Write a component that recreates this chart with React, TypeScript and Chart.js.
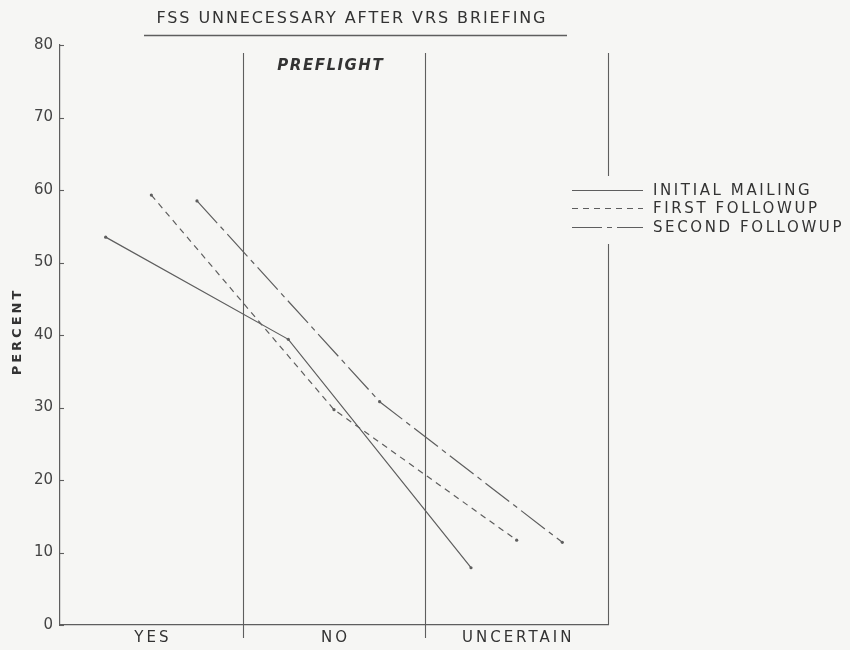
import { useEffect, useRef } from 'react';
import Chart from 'chart.js/auto';

const categories = ['YES', 'NO', 'UNCERTAIN'];
const seriesNames = ['INITIAL MAILING', 'FIRST FOLLOWUP', 'SECOND FOLLOWUP'];
const initialMailing = [53.5, 39.4, 7.9];
const firstFollowup = [59.3, 29.7, 11.7];
const secondFollowup = [58.5, 30.8, 11.4];
const yTicks = [0, 10, 20, 30, 40, 50, 60, 70, 80];
const chartTitle = 'FSS UNNECESSARY AFTER VRS BRIEFING';
const panelLabel = 'PREFLIGHT';
const yLabel = 'PERCENT';

// where each series sits inside its answer band
const bandOffsets = [0.25, 0.5, 0.75];
const dashes = [[], [6, 5], [30, 5, 5, 5]];

const BG = '#f6f6f4';
const INK = '#5e5e5e';
const TEXT = '#333333';
const FONT = '"DejaVu Sans", sans-serif';

// text with a fixed letter spacing; align 'center' or 'left'
function lettered(ctx: CanvasRenderingContext2D, text: string, x: number, y: number, sp: number, align = 'center') {
  (ctx as any).letterSpacing = '0px';
  const w = ctx.measureText(text).width + sp * (text.length - 1);
  (ctx as any).letterSpacing = sp + 'px';
  ctx.textAlign = 'left';
  ctx.fillText(text, align === 'center' ? x - w / 2 : x, y);
  (ctx as any).letterSpacing = '0px';
}

const decor = {
  id: 'decor',
  beforeDraw(chart: any) {
    const { ctx } = chart;
    ctx.save();
    ctx.fillStyle = BG;
    ctx.fillRect(0, 0, chart.width, chart.height);
    ctx.restore();
  },
  afterDraw(chart: any) {
    const { ctx, chartArea: a } = chart;
    const x = chart.scales.x;
    const y = chart.scales.y;
    ctx.save();
    ctx.strokeStyle = INK;
    ctx.lineWidth = 1.1;

    // band dividers
    for (let i = 1; i <= categories.length; i++) {
      const px = Math.round(x.getPixelForValue(i)) + 0.5;
      const last = i === categories.length;
      ctx.beginPath();
      ctx.moveTo(px, a.top + 8);
      ctx.lineTo(px, last ? a.bottom : a.bottom + 13);
      ctx.stroke();
    }

    // inside ticks on the y axis
    for (const t of yTicks) {
      const py = Math.round(y.getPixelForValue(t)) + 0.5;
      ctx.beginPath();
      ctx.moveTo(a.left, py);
      ctx.lineTo(a.left + 4, py);
      ctx.stroke();
    }

    ctx.fillStyle = TEXT;
    ctx.textBaseline = 'middle';

    // category labels
    ctx.font = `15px ${FONT}`;
    categories.forEach((c, i) => {
      lettered(ctx, c, x.getPixelForValue(i + 0.5), a.bottom + 13, 3);
    });

    // title + underline
    ctx.font = `16px ${FONT}`;
    lettered(ctx, chartTitle, 351, 19, 1.9);
    ctx.beginPath();
    ctx.lineWidth = 1.4;
    ctx.moveTo(144, 35.5);
    ctx.lineTo(567, 35.5);
    ctx.stroke();

    // panel label
    ctx.font = `italic bold 15px ${FONT}`;
    lettered(ctx, panelLabel, x.getPixelForValue(1.5) - 4, 66, 1.5);

    // y axis title
    ctx.save();
    ctx.translate(18, 333);
    ctx.rotate(-Math.PI / 2);
    ctx.font = `bold 13px ${FONT}`;
    lettered(ctx, yLabel, 0, 0, 3);
    ctx.restore();

    // legend
    const lx0 = 572, lx1 = 643, tx = 653;
    const rows = [190, 208, 227];
    ctx.fillStyle = BG;
    ctx.fillRect(x.getPixelForValue(3) - 6, 176, 12, 68);
    ctx.lineWidth = 1.1;
    chart.data.datasets.forEach((ds: any, i: number) => {
      ctx.setLineDash(ds.borderDash || []);
      ctx.beginPath();
      ctx.moveTo(lx0, rows[i] + 0.5);
      ctx.lineTo(lx1, rows[i] + 0.5);
      ctx.stroke();
      ctx.setLineDash([]);
      ctx.fillStyle = TEXT;
      ctx.font = `15px ${FONT}`;
      lettered(ctx, ds.label, tx, rows[i] + 1, 2.6, 'left');
    });
    ctx.restore();
  },
};

export default function App() {
  const canvasRef = useRef<HTMLCanvasElement>(null);

  useEffect(() => {
    document.body.style.margin = '0';
    if (!canvasRef.current) return;
    const series = [initialMailing, firstFollowup, secondFollowup];
    const chart = new Chart(canvasRef.current, {
      type: 'line',
      data: {
        datasets: series.map((vals, s) => ({
          label: seriesNames[s],
          data: vals.map((v, i) => ({ x: i + bandOffsets[s], y: v })),
          borderColor: INK,
          borderWidth: 1.2,
          borderDash: dashes[s],
          pointRadius: 1.6,
          pointBackgroundColor: INK,
          pointBorderWidth: 0,
          tension: 0,
          fill: false,
        })),
      },
      options: {
        animation: false,
        responsive: false,
        maintainAspectRatio: false,
        devicePixelRatio: 1,
        layout: { padding: { left: 8, right: 242, top: 45, bottom: 0 } },
        plugins: { legend: { display: false }, tooltip: { enabled: false } },
        scales: {
          x: {
            type: 'linear',
            min: 0,
            max: categories.length,
            grid: { display: false },
            border: { display: true, color: INK, width: 1.2 },
            ticks: { display: false },
            afterFit: (s: any) => { s.height = 25; },
          },
          y: {
            min: 0,
            max: 80,
            grid: { display: false, drawTicks: false },
            border: { display: true, color: INK, width: 1.2 },
            afterBuildTicks: (s: any) => { s.ticks = yTicks.map(v => ({ value: v })); },
            ticks: {
              color: '#444444',
              padding: 7,
              font: { family: FONT, size: 15 },
            },
            afterFit: (s: any) => { s.width = 52; },
          },
        },
      },
      plugins: [decor],
    });
    return () => { chart.destroy(); };
  }, []);

  return (
    <div style={{ width: 850, height: 650, background: BG }}>
      <canvas ref={canvasRef} width={850} height={650} />
    </div>
  );
}
